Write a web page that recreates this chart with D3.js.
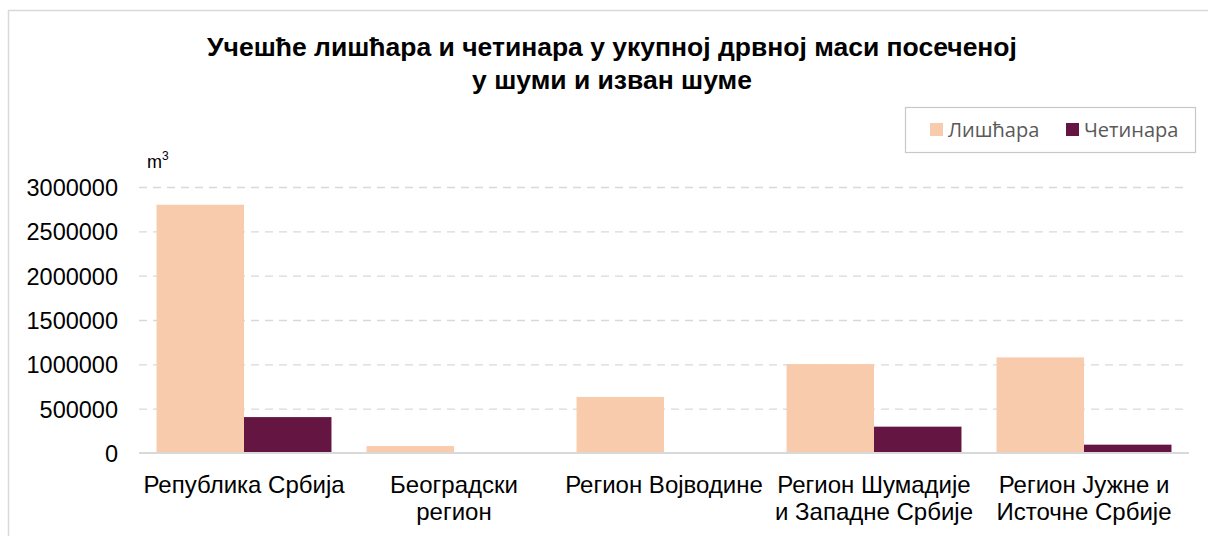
<!DOCTYPE html>
<meta charset="utf-8">
<style>
body { margin: 0; background: #fff; }
.grid line { stroke: #d9d9d9; stroke-dasharray: 8,6; stroke-width: 1.3px; }
.grid path { display: none; }
.tick text { font-family: "Liberation Sans", Arial, sans-serif; fill: #000; }
</style>
<body>
<script src="https://d3js.org/d3.v7.min.js"></script>
<script>

// data
var categories = ["Република Србија", "Београдски\nрегион", "Регион Војводине",
                  "Регион Шумадије\nи Западне Србије", "Регион Јужне и\nИсточне Србије"];
var series = ["Лишћара", "Четинара"];
var lisciara = [2800000, 78000, 632000, 1003000, 1078000];
var cetinara = [405000, 1500, 6000, 297000, 94000];
var yTicks = [0, 500000, 1000000, 1500000, 2000000, 2500000, 3000000];
var colors = ["#f8cbad", "#641541"];

var W = 1208, H = 536;
var margin = {top: 187, right: 19, bottom: 83, left: 139},
    width = W - margin.left - margin.right,
    height = H - margin.top - margin.bottom;

var svg = d3.select("body").append("svg")
    .attr("width", W)
    .attr("height", H);

// chart frame
svg.append("path")
    .attr("d", "M8.5," + H + " V10.5 H" + W)
    .attr("fill", "none")
    .attr("stroke", "#d9d9d9")
    .attr("stroke-width", 1.5);

// title
var title = svg.append("text")
    .attr("text-anchor", "middle")
    .style("font-family", "'Liberation Sans', Arial, sans-serif")
    .style("font-weight", "bold")
    .style("font-size", "26.5px");
title.append("tspan").attr("x", 612).attr("y", 56)
    .text("Учешће лишћара и четинара у укупној дрвној маси посеченој");
title.append("tspan").attr("x", 612).attr("y", 89)
    .text("у шуми и изван шуме");

var g = svg.append("g")
    .attr("transform", "translate(" + margin.left + "," + margin.top + ")");

var x0 = d3.scaleBand().domain(categories).range([0, width]).paddingInner(0.167).paddingOuter(0.0835);
var x1 = d3.scaleBand().domain(series).range([0, x0.bandwidth()]);
var y = d3.scaleLinear().domain([0, 3000000]).range([height, 0]);

// gridlines
g.append("g")
    .attr("class", "grid")
    .call(d3.axisLeft(y).tickValues(yTicks.slice(1)).tickSize(-width).tickFormat(""))
    .call(function(s) { s.selectAll(".tick line").attr("x1", 0).attr("x2", width); });

// y axis labels
var yAxis = g.append("g")
    .call(d3.axisLeft(y).tickValues(yTicks).tickSize(0).tickPadding(21).tickFormat(d3.format("d")));
yAxis.select(".domain").remove();
yAxis.selectAll("text").style("font-size", "23.5px").attr("dy", "0.36em");

// bars
var rows = categories.map(function(c, i) { return {cat: c, vals: [lisciara[i], cetinara[i]]}; });
var grp = g.selectAll(".grp")
    .data(rows)
  .enter().append("g")
    .attr("transform", function(d) { return "translate(" + x0(d.cat) + ",0)"; });
grp.selectAll("rect")
    .data(function(d) { return d.vals.map(function(v, j) { return {s: series[j], v: v, j: j}; }); })
  .enter().append("rect")
    .attr("x", function(d) { return x1(d.s); })
    .attr("width", x1.bandwidth())
    .attr("y", function(d) { return y(d.v); })
    .attr("height", function(d) { return height - y(d.v); })
    .attr("fill", function(d) { return colors[d.j]; });

// x axis
var xAxis = g.append("g")
    .attr("transform", "translate(0," + height + ")")
    .call(d3.axisBottom(x0).tickSize(0).tickPadding(0).tickSizeOuter(0));
xAxis.select(".domain").attr("stroke", "#d9d9d9").attr("stroke-width", 2)
    .attr("d", "M0,0H" + width);
xAxis.selectAll(".tick text").each(function(d) {
  var t = d3.select(this).text(null).attr("y", 0).attr("dy", null).style("font-size", "24px");
  d.split("\n").forEach(function(line, k) {
    t.append("tspan").attr("x", 0).attr("y", 40 + k * 27).text(line);
  });
});

// unit label
var unit = svg.append("text")
    .attr("x", 147).attr("y", 168)
    .style("font-family", "'Liberation Sans', Arial, sans-serif")
    .style("font-size", "18px");
unit.append("tspan").text("m");
unit.append("tspan").attr("dy", -8).style("font-size", "12px").text("3");

// legend
var lg = svg.append("g").attr("transform", "translate(905,107)");
lg.append("rect").attr("x", 0.5).attr("y", 0.5).attr("width", 290).attr("height", 45)
    .attr("fill", "#fff").attr("stroke", "#c8c8c8").attr("stroke-width", 1.2);
var lx = [25, 161];
series.forEach(function(s, i) {
  lg.append("rect").attr("x", lx[i]).attr("y", 16).attr("width", 13).attr("height", 13).attr("fill", colors[i]);
  lg.append("text").attr("x", lx[i] + 18).attr("y", 30)
    .style("font-family", "'Open Sans', sans-serif")
    .style("font-size", "20px")
    .attr("fill", "#595959")
    .text(s);
});

</script>
</body>
